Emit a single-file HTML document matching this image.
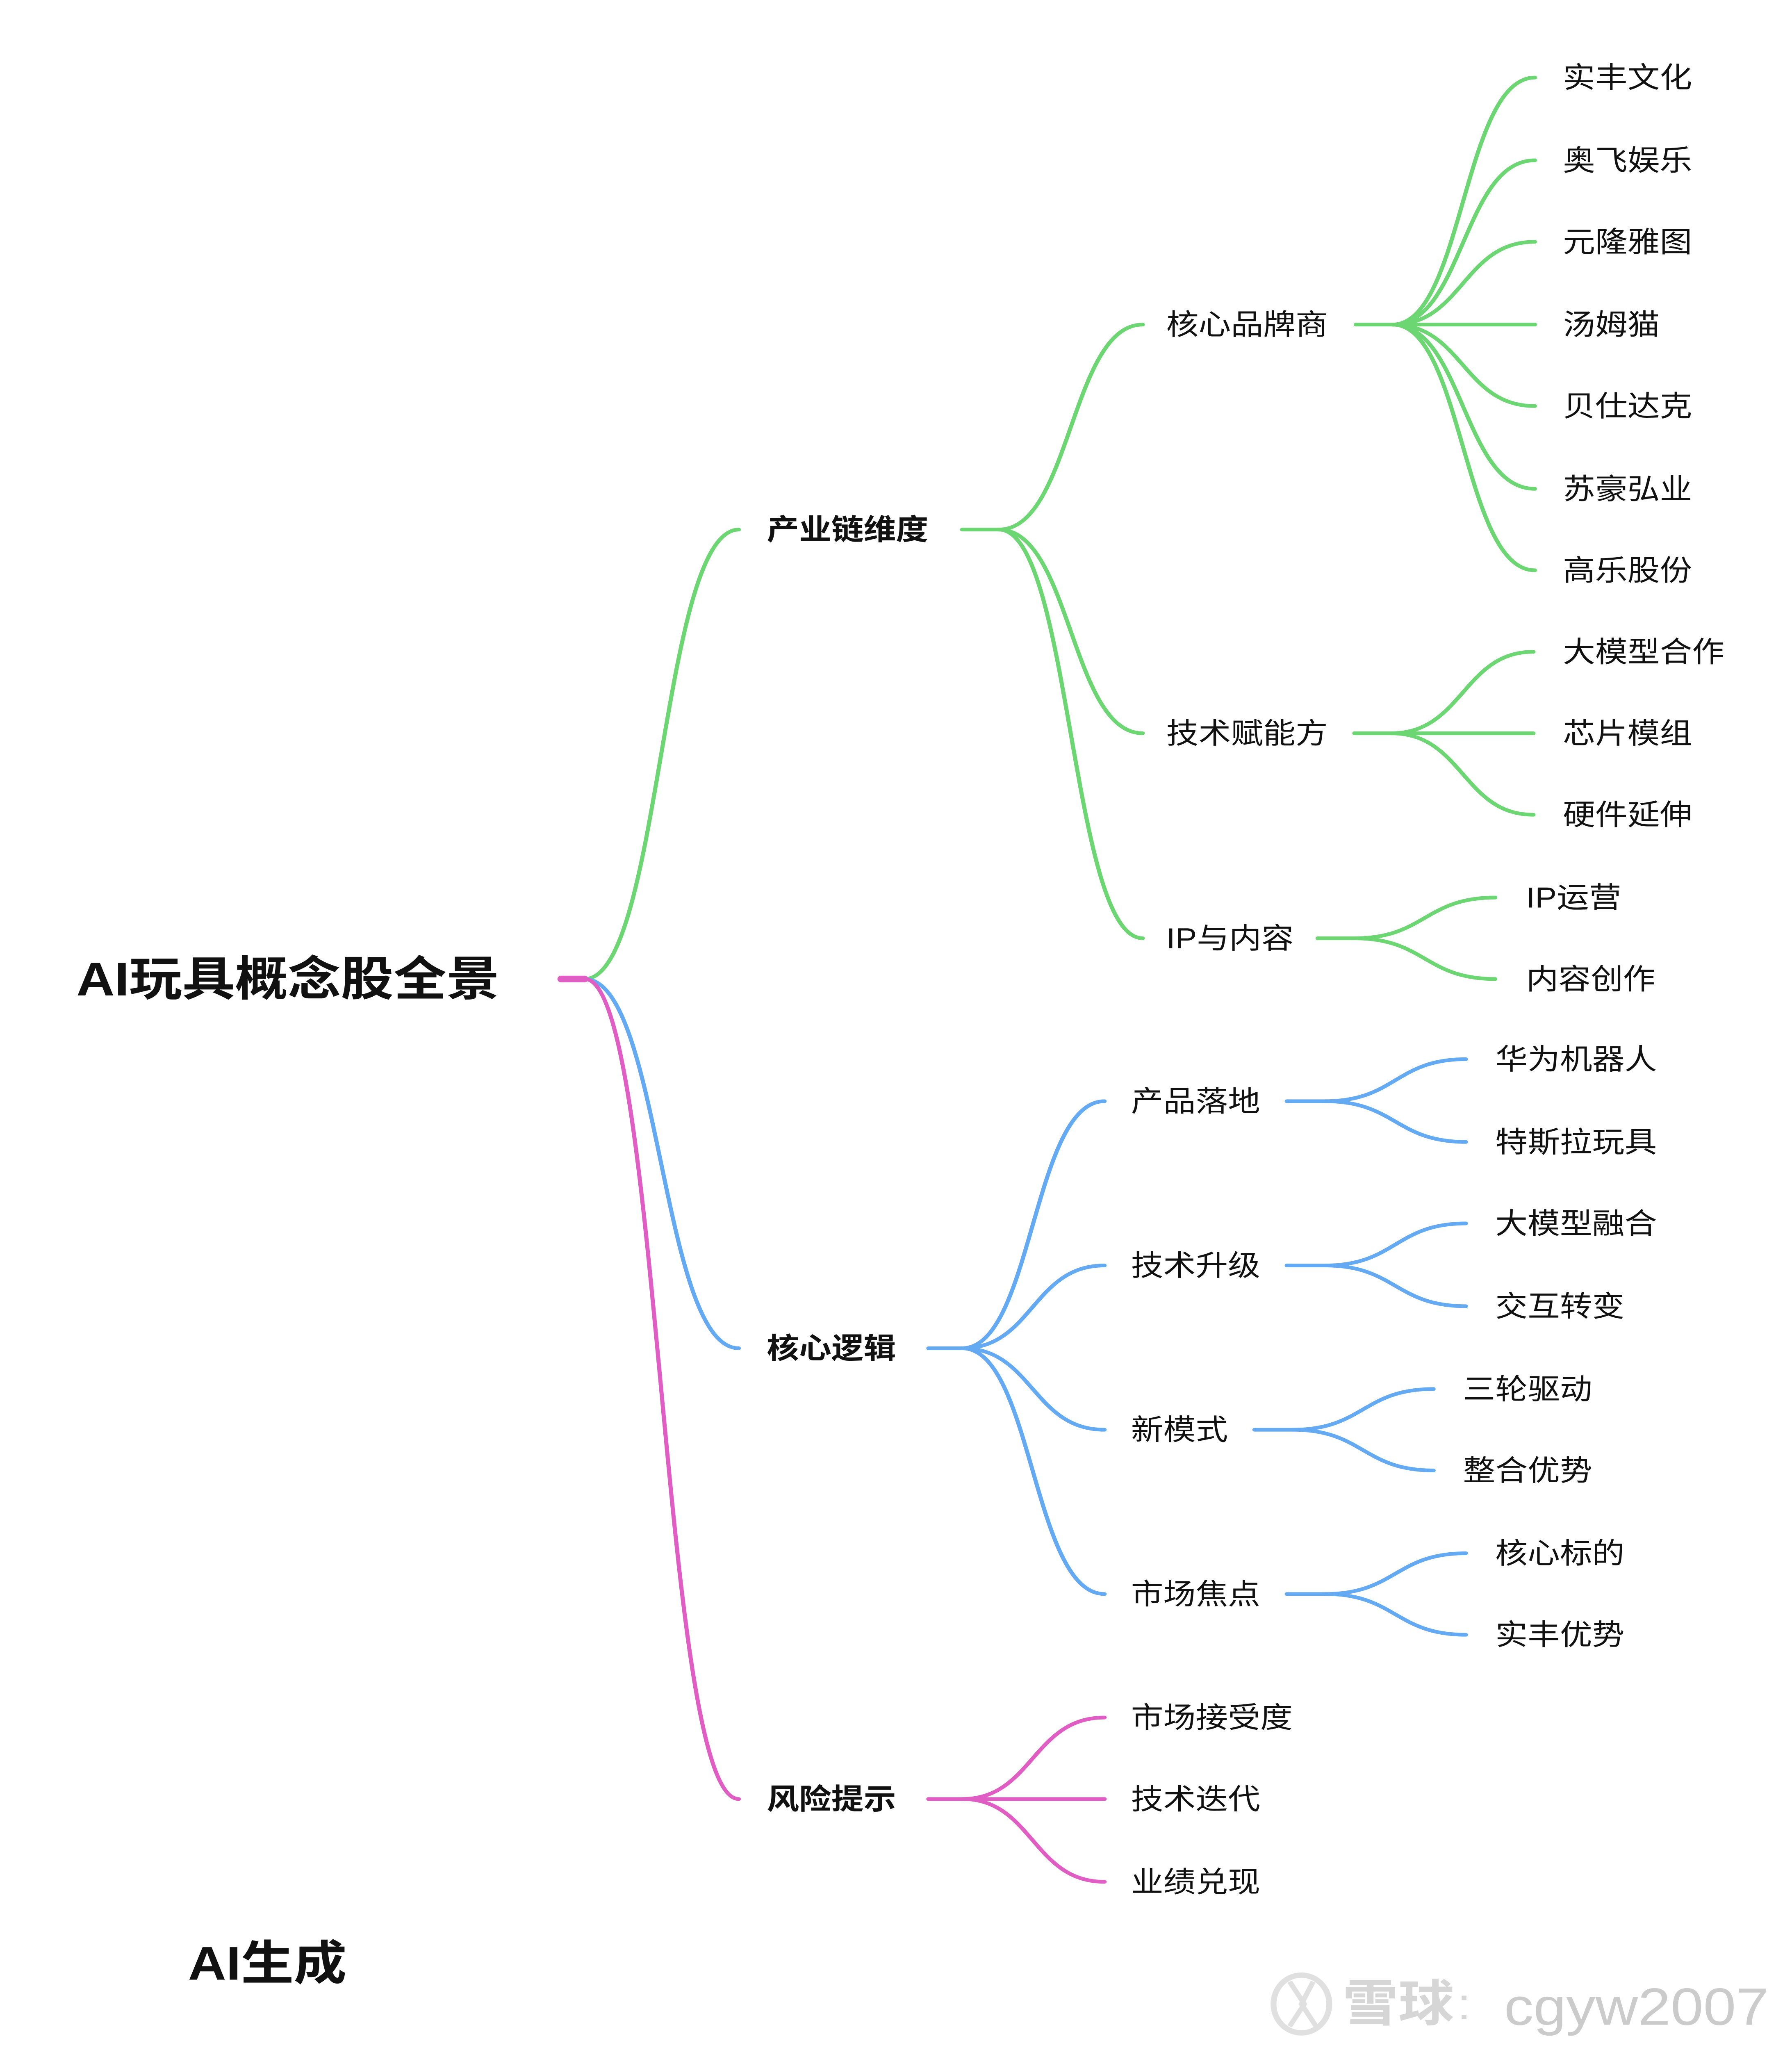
<!DOCTYPE html>
<html><head><meta charset="utf-8"><style>
html,body{margin:0;padding:0;background:#fff;overflow:hidden;width:100%;height:100%;}
svg{display:block;width:100vw;height:100vh;}
text{font-family:"Liberation Sans","Noto Sans CJK SC",sans-serif;dominant-baseline:central;fill:#111;}
.b{font-weight:bold;}
.g{stroke:#6cd672;fill:none;stroke-width:2.8;stroke-linecap:round;}
.u{stroke:#64aaf2;fill:none;stroke-width:2.8;stroke-linecap:round;}
.p{stroke:#e05ec4;fill:none;stroke-width:2.8;stroke-linecap:round;}
</style></head><body>
<svg viewBox="0 0 1220 1560" preserveAspectRatio="none" xmlns="http://www.w3.org/2000/svg">
<rect width="1220" height="1560" fill="#fff"/>
<text x="52" y="745" class="b" font-size="36">AI玩具概念股全景</text>
<path class="g" d="M398 745 C450 745,450 403,503 403"/>
<path class="u" d="M398 745 C450 745,450 1026,503 1026"/>
<path class="p" d="M398 745 C450 745,450 1369,503 1369"/>
<path d="M382 745 L398 745" stroke="#e05ec4" stroke-width="5" stroke-linecap="round"/>
<text x="522" y="403" class="b" font-size="22">产业链维度</text>
<text x="522" y="1026" class="b" font-size="22">核心逻辑</text>
<text x="522" y="1369" class="b" font-size="22">风险提示</text>
<path class="g" d="M655 403 H680"/>
<path class="g" d="M680 403 C729 403,729 247,778 247"/>
<path class="g" d="M680 403 C729 403,729 558,778 558"/>
<path class="g" d="M680 403 C729 403,729 714,778 714"/>
<text x="794" y="247" font-size="22">核心品牌商</text>
<text x="794" y="558" font-size="22">技术赋能方</text>
<text x="794" y="714" font-size="22">IP与内容</text>
<path class="g" d="M923 247 H948"/>
<path class="g" d="M948 247 C996 247,996 59,1045 59"/>
<path class="g" d="M948 247 C996 247,996 122,1045 122"/>
<path class="g" d="M948 247 C996 247,996 184,1045 184"/>
<path class="g" d="M948 247 H1045"/>
<path class="g" d="M948 247 C996 247,996 309,1045 309"/>
<path class="g" d="M948 247 C996 247,996 372,1045 372"/>
<path class="g" d="M948 247 C996 247,996 434,1045 434"/>
<text x="1064" y="59" font-size="22">实丰文化</text>
<text x="1064" y="122" font-size="22">奥飞娱乐</text>
<text x="1064" y="184" font-size="22">元隆雅图</text>
<text x="1064" y="247" font-size="22">汤姆猫</text>
<text x="1064" y="309" font-size="22">贝仕达克</text>
<text x="1064" y="372" font-size="22">苏豪弘业</text>
<text x="1064" y="434" font-size="22">高乐股份</text>
<path class="g" d="M922 558 H947"/>
<path class="g" d="M947 558 C996 558,996 496,1044 496"/>
<path class="g" d="M947 558 H1044"/>
<path class="g" d="M947 558 C996 558,996 620,1044 620"/>
<text x="1064" y="496" font-size="22">大模型合作</text>
<text x="1064" y="558" font-size="22">芯片模组</text>
<text x="1064" y="620" font-size="22">硬件延伸</text>
<path class="g" d="M897 714 H922"/>
<path class="g" d="M922 714 C970 714,970 683,1018 683"/>
<path class="g" d="M922 714 C970 714,970 745,1018 745"/>
<text x="1039" y="683" font-size="22">IP运营</text>
<text x="1039" y="745" font-size="22">内容创作</text>
<path class="u" d="M632 1026 H655"/>
<path class="u" d="M655 1026 C703 1026,703 838,752 838"/>
<path class="u" d="M655 1026 C703 1026,703 963,752 963"/>
<path class="u" d="M655 1026 C703 1026,703 1088,752 1088"/>
<path class="u" d="M655 1026 C703 1026,703 1213,752 1213"/>
<text x="770" y="838" font-size="22">产品落地</text>
<text x="770" y="963" font-size="22">技术升级</text>
<text x="770" y="1088" font-size="22">新模式</text>
<text x="770" y="1213" font-size="22">市场焦点</text>
<path class="u" d="M876 838 H902 C950 838,950 806,998 806"/>
<path class="u" d="M902 838 C950 838,950 869,998 869"/>
<text x="1018" y="806" font-size="22">华为机器人</text>
<text x="1018" y="869" font-size="22">特斯拉玩具</text>
<path class="u" d="M876 963 H902 C950 963,950 931,998 931"/>
<path class="u" d="M902 963 C950 963,950 994,998 994"/>
<text x="1018" y="931" font-size="22">大模型融合</text>
<text x="1018" y="994" font-size="22">交互转变</text>
<path class="u" d="M854 1088 H880 C928 1088,928 1057,976 1057"/>
<path class="u" d="M880 1088 C928 1088,928 1119,976 1119"/>
<text x="996" y="1057" font-size="22">三轮驱动</text>
<text x="996" y="1119" font-size="22">整合优势</text>
<path class="u" d="M876 1213 H902 C950 1213,950 1182,998 1182"/>
<path class="u" d="M902 1213 C950 1213,950 1244,998 1244"/>
<text x="1018" y="1182" font-size="22">核心标的</text>
<text x="1018" y="1244" font-size="22">实丰优势</text>
<path class="p" d="M632 1369 H655"/>
<path class="p" d="M655 1369 C703 1369,703 1307,752 1307"/>
<path class="p" d="M655 1369 H752"/>
<path class="p" d="M655 1369 C703 1369,703 1432,752 1432"/>
<text x="770" y="1307" font-size="22">市场接受度</text>
<text x="770" y="1369" font-size="22">技术迭代</text>
<text x="770" y="1432" font-size="22">业绩兑现</text>
<text x="128" y="1494" class="b" font-size="36">AI生成</text>
<g opacity="0.9">
<ellipse cx="886" cy="1525" rx="19" ry="22" fill="none" stroke="#ddd" stroke-width="4"/>
<path d="M878 1508 L888 1525 L878 1542 M894 1508 L886 1525 L896 1542" fill="none" stroke="#ddd" stroke-width="3.5"/>
<text x="914" y="1525" font-size="38" style="fill:#d2d2d2" class="b">雪球</text>
<text x="992" y="1525" font-size="34" style="fill:#d2d2d2">:</text>
<text x="1024" y="1527" font-size="40" style="fill:#c6c6c6">cgyw2007</text>
</g>
</svg>
</body></html>
